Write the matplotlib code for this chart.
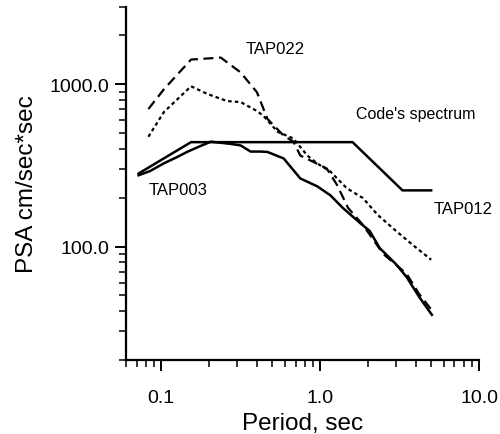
import numpy as np
import matplotlib
matplotlib.use("Agg")
import matplotlib.pyplot as plt
from matplotlib.ticker import FixedLocator, LogLocator, NullFormatter

plt.rcParams['font.family'] = ['Liberation Sans', 'DejaVu Sans']

# periods (sec) and PSA values (cm/sec*sec)
code_T = [0.072, 0.154, 1.6, 3.3, 5.0]
code_psa = [282, 440, 440, 222, 222]

tap003_T = [0.072, 0.085, 0.104, 0.125, 0.147, 0.175, 0.205, 0.27, 0.316, 0.365,
            0.42, 0.466, 0.59, 0.75, 0.96, 1.16, 1.39, 1.78, 2.05, 2.37, 3.0,
            3.5, 4.2, 5.05]
tap003_psa = [275, 292, 326, 355, 385, 415, 443, 430, 420, 385,
              385, 383, 349, 263, 235, 207, 173, 140, 125, 98, 78,
              65, 49, 38]

tap022_T = [0.083, 0.104, 0.154, 0.237, 0.316, 0.4, 0.466, 0.59, 0.68, 0.75,
            1.1, 1.28, 1.5, 1.86, 2.5, 3.5, 4.2, 5.0]
tap022_psa = [704, 932, 1420, 1460, 1183, 894, 612, 482, 443, 364,
              303, 239, 173, 136, 90, 68, 51, 41]

tap012_T = [0.083, 0.104, 0.154, 0.196, 0.26, 0.316, 0.4, 0.44, 0.54, 0.68,
            0.83, 0.96, 1.16, 1.47, 1.86, 2.3, 3.0, 3.8, 5.0]
tap012_psa = [475, 675, 972, 870, 788, 777, 685, 638, 510, 463,
              364, 325, 290, 229, 199, 157, 125, 103, 83]

fig = plt.figure(figsize=(5.0, 4.35), dpi=100)
ax = fig.add_axes([0.252, 0.170, 0.706, 0.812])

ax.plot(code_T, code_psa, color='k', lw=1.8, solid_joinstyle='miter')
ax.plot(tap003_T, tap003_psa, color='k', lw=1.8)
ax.plot(tap022_T, tap022_psa, color='k', lw=1.6, dashes=(4.5, 2.5))
ax.plot(tap012_T, tap012_psa, color='k', lw=1.6, dashes=(1.6, 1.4))

ax.set_xscale('log')
ax.set_yscale('log')
ax.set_xlim(0.06, 10.0)
ax.set_ylim(20, 3000)

ax.xaxis.set_major_locator(FixedLocator([0.1, 1.0, 10.0]))
ax.set_xticklabels(['0.1', '1.0', '10.0'])
ax.xaxis.set_minor_locator(LogLocator(base=10, subs=np.arange(2, 10), numticks=20))
ax.xaxis.set_minor_formatter(NullFormatter())
ax.yaxis.set_major_locator(FixedLocator([100.0, 1000.0]))
ax.set_yticklabels(['100.0', '1000.0'])
ax.yaxis.set_minor_locator(LogLocator(base=10, subs=np.arange(2, 10), numticks=20))
ax.yaxis.set_minor_formatter(NullFormatter())

for s in ['top', 'right']:
    ax.spines[s].set_visible(False)
for s in ['left', 'bottom']:
    ax.spines[s].set_linewidth(1.6)
ax.tick_params(which='major', length=8, width=1.4, labelsize=14)
ax.tick_params(axis='x', which='major', pad=13)
ax.tick_params(axis='y', which='major', pad=4)
ax.tick_params(which='minor', length=5, width=1.1)

ax.set_xlabel('Period, sec', fontsize=17.5, labelpad=4)
ax.set_ylabel('PSA cm/sec*sec', fontsize=17.5, labelpad=8)

ax.text(0.083, 226, 'TAP003', fontsize=12, va='center', ha='left')
ax.text(0.34, 1660, 'TAP022', fontsize=12, va='center', ha='left')
ax.text(1.68, 656, "Code's spectrum", fontsize=11.5, va='center', ha='left')
ax.text(5.2, 171, 'TAP012', fontsize=12, va='center', ha='left')

fig.savefig('out.png', dpi=100)
